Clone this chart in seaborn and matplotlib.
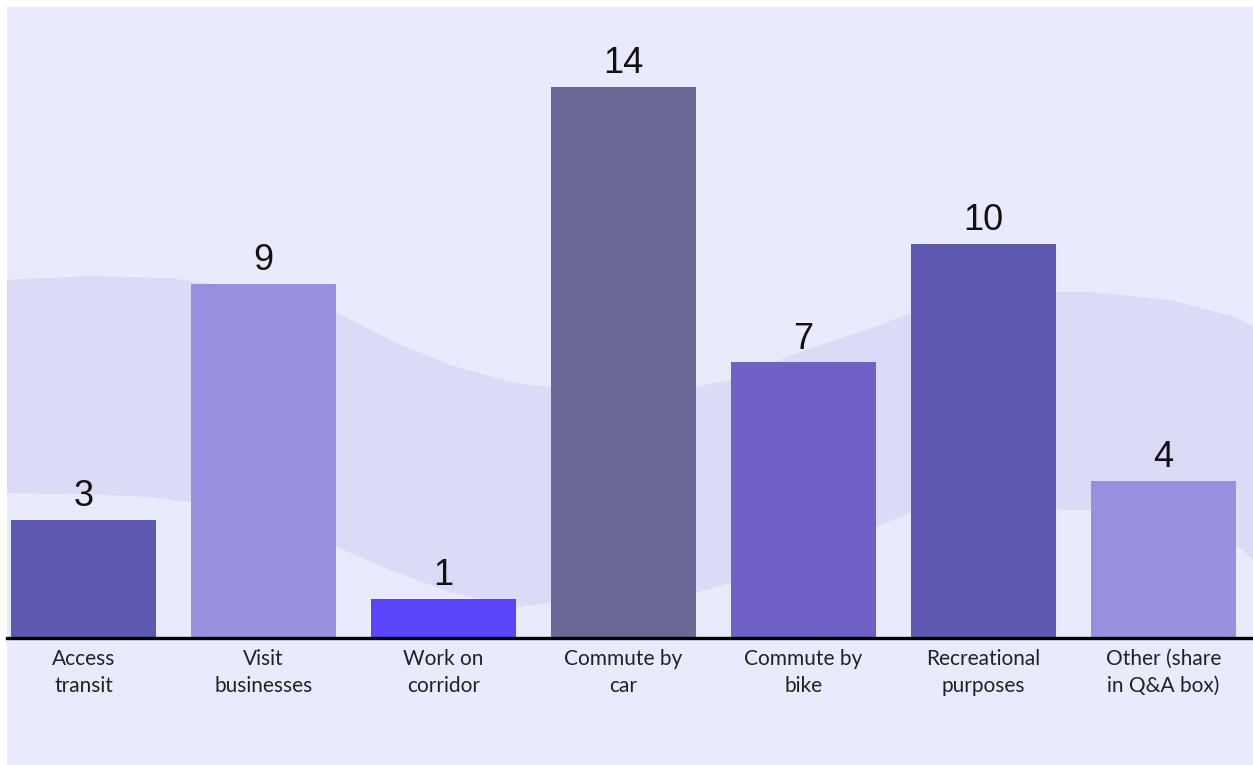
import numpy as np
import matplotlib
matplotlib.use("Agg")
import matplotlib.pyplot as plt
from matplotlib.patches import Rectangle, Polygon
import seaborn as sns

categories = ["Access\ntransit", "Visit\nbusinesses", "Work on\ncorridor",
              "Commute by\ncar", "Commute by\nbike", "Recreational\npurposes",
              "Other (share\nin Q&A box)"]
values = [3, 9, 1, 14, 7, 10, 4]
bar_colors = ["#5E59B0", "#9890DE", "#5B45FA", "#6B6897", "#7061C6", "#5F58B1", "#9890DE"]

BG = "#E9EAFC"
BAND = "#DBDBF6"

W, H = 1253, 765
fig = plt.figure(figsize=(W / 100, H / 100), dpi=100)
fig.patch.set_facecolor("white")

# background panel (pixel coordinates, y from top)
def fx(x):
    return x / W
def fy(y):
    return 1 - y / H

fig.add_artist(Rectangle((fx(7), 0), 1 - fx(7), fy(7), transform=fig.transFigure,
                         facecolor=BG, edgecolor="none", zorder=0))

# decorative wavy band
upper = [(7, 280), (90, 276), (170, 278), (190, 281), (260, 292), (337, 313), (390, 340),
         (450, 365), (515, 383), (550, 387), (620, 391), (695, 387), (730, 380),
         (800, 352), (875, 327), (910, 313), (980, 300), (1055, 292), (1090, 292),
         (1170, 300), (1235, 317), (1253, 327)]
lower = [(7, 493), (80, 494), (150, 497), (190, 502), (260, 520), (337, 547), (390, 570),
         (450, 592), (515, 607), (550, 603), (620, 600), (695, 593), (730, 583),
         (800, 555), (875, 527), (910, 513), (1000, 508), (1090, 510), (1170, 525),
         (1235, 543), (1253, 560)]
pts = [(fx(x), fy(y)) for x, y in upper] + [(fx(x), fy(y)) for x, y in lower[::-1]]
fig.add_artist(Polygon(pts, closed=True, transform=fig.transFigure,
                       facecolor=BAND, edgecolor="none", zorder=0.5))

ax = fig.add_axes([fx(7), fy(638), 1 - fx(7), (638 - 7) / H])
ax.set_facecolor("none")
ax.set_zorder(2)

sns.barplot(x=list(range(len(values))), y=values, hue=list(range(len(values))),
            palette=bar_colors, width=0.805, saturation=1, legend=False, ax=ax,
            edgecolor="none", linewidth=0)

ax.set_xlim(-0.425, 6.497)
ax.set_ylim(0, 16.03)

for i, v in enumerate(values):
    ax.annotate(str(v), xy=(i, v), xytext=(0, 10), textcoords="offset points",
                ha="center", va="baseline", fontsize=26, color="#111111",
                family="Liberation Sans")

ax.set_xticks(range(len(categories)))
ax.set_xticklabels(categories, fontsize=15, color="#222222", family="Lato",
                   linespacing=1.45)
ax.tick_params(axis="x", length=0, pad=8)
ax.set_yticks([])
ax.set_xlabel("")
ax.set_ylabel("")
for s in ["top", "right", "left"]:
    ax.spines[s].set_visible(False)
ax.spines["bottom"].set_color("black")
ax.spines["bottom"].set_linewidth(2.4)

fig.savefig("out.png", dpi=100, facecolor=fig.get_facecolor())
